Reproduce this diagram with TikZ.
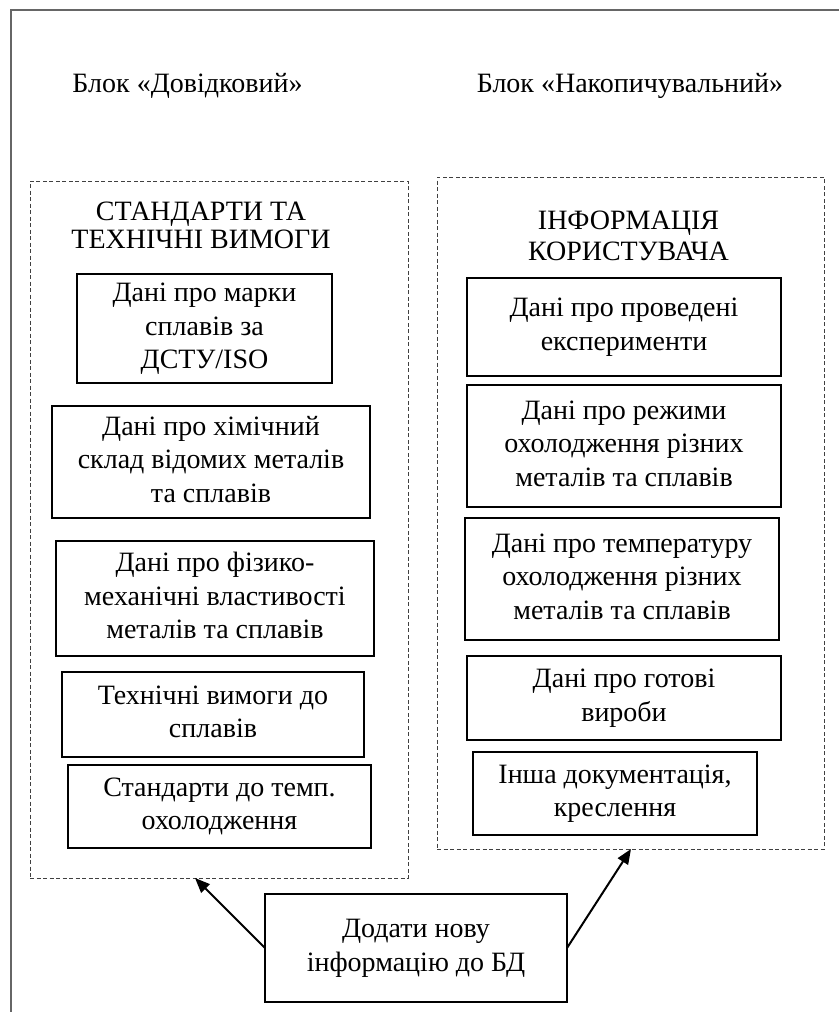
\documentclass[tikz,border=0pt]{standalone}
\usepackage{fontspec}
\setmainfont{Liberation Serif}
\usepackage{tikz}
\usetikzlibrary{arrows.meta}
\tikzset{
	databox/.style={draw, line width=2pt, outer sep=0, inner sep=0, align=center},
	group/.style={draw=black!75, line width=1pt, dash pattern=on 4pt off 2.5pt, outer sep=0, inner sep=0},
	frame/.style={draw=black!60, line width=2pt}
}

\begin{document}
\begin{tikzpicture}[x=1pt, y=-1pt, line width=2pt, -{Triangle[length=15pt,width=12pt]},
		every node/.style={font=\fontsize{28}{33.5}\selectfont}]
	\useasboundingbox (0,0) rectangle (839,1012);
	\path[frame, -] (839,10) -- (10.5,10) -- (10.5,1012);
	
	\node[anchor=base] (hd1) at (187.5, 92) {Блок «Довідковий»};
	\node[anchor=base] (hd2) at (630, 92) {Блок «Накопичувальний»};
	
	\node[group, minimum width=378, minimum height=697] (grpL) at (219, 529.5) {};
	\node[group, minimum width=387, minimum height=672] (grpR) at (630.5, 513) {};
	
	\node[font=\fontsize{28}{28.5}\selectfont] (tL) at (201, 229) {\begin{tabular}{c} СТАНДАРТИ ТА \\ ТЕХНІЧНІ ВИМОГИ \end{tabular}};
	\node[font=\fontsize{28}{31}\selectfont] (tR) at (628.5, 239) {\begin{tabular}{c} ІНФОРМАЦІЯ \\ КОРИСТУВАЧА \end{tabular}};
	
	\node[databox, minimum width=255, minimum height=109] (s1) at (204.5, 328.5) {\begin{tabular}{c} Дані про марки \\ сплавів за \\ ДСТУ/ISO \end{tabular}};
	\node[databox, minimum width=318, minimum height=112] (s2) at (211, 462) {\begin{tabular}{c} Дані про хімічний \\ склад відомих металів \\ та сплавів \end{tabular}};
	\node[databox, minimum width=318, minimum height=115] (s3) at (215, 598.5) {\begin{tabular}{c} Дані про фізико- \\ механічні властивості \\ металів та сплавів \end{tabular}};
	\node[databox, minimum width=302, minimum height=85] (s4) at (213, 714.5) {\begin{tabular}{c} Технічні вимоги до \\ сплавів \end{tabular}};
	\node[databox, minimum width=303, minimum height=83] (s5) at (219.5, 806.5) {\begin{tabular}{c} Стандарти до темп. \\ охолодження \end{tabular}};
	
	\node[databox, minimum width=314, minimum height=98] (u1) at (624, 327) {\begin{tabular}{c} Дані про проведені \\ експерименти \end{tabular}};
	\node[databox, minimum width=314, minimum height=122] (u2) at (624, 446) {\begin{tabular}{c} Дані про режими \\ охолодження різних \\ металів та сплавів \end{tabular}};
	\node[databox, minimum width=314, minimum height=122] (u3) at (622, 579) {\begin{tabular}{c} Дані про температуру \\ охолодження різних \\ металів та сплавів \end{tabular}};
	\node[databox, minimum width=314, minimum height=84] (u4) at (624, 698) {\begin{tabular}{c} Дані про готові \\ вироби \end{tabular}};
	\node[databox, minimum width=284, minimum height=83] (u5) at (615, 793.5) {\begin{tabular}{c} Інша документація, \\ креслення \end{tabular}};
	
	\node[databox, minimum width=302, minimum height=108] (add) at (416, 948) {\begin{tabular}{c} Додати нову \\ інформацію до БД \end{tabular}};
	
	\coordinate (inL) at (195, 878);
	\coordinate (inR) at (631, 849);
	\path (add.west) edge (inL);
	\path (add.east) edge (inR);
\end{tikzpicture}
\end{document}
